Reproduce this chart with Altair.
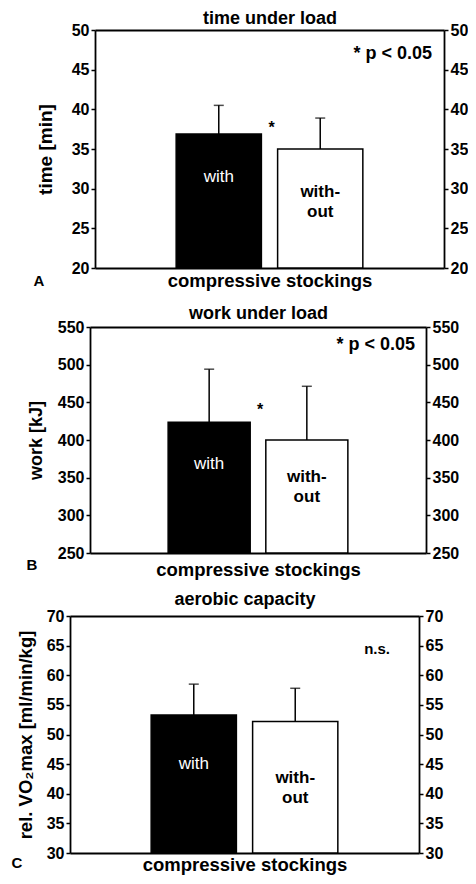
import altair as alt
import pandas as pd

FONT = "Liberation Sans"

# ---- data ----
conditions = ["with", "without"]
bar_labels = ["with", "with-\nout"]
panel_letters = ["A", "B", "C"]
panel_titles = ["time under load", "work under load", "aerobic capacity"]
y_titles = ["time [min]", "work [kJ]", "rel. VO\u2082max [ml/min/kg]"]
x_title = "compressive stockings"
y_domains = [[20, 50], [250, 550], [30, 70]]
y_ticks = [[20, 25, 30, 35, 40, 45, 50],
           [250, 300, 350, 400, 450, 500, 550],
           [30, 35, 40, 45, 50, 55, 60, 65, 70]]
time_mean = [36.9, 35.0]
time_sd_top = [40.5, 38.9]
work_mean = [423.5, 400.0]
work_sd_top = [494.0, 471.3]
vo2_mean = [53.3, 52.2]
vo2_sd_top = [58.5, 57.8]
sig_texts = ["* p < 0.05", "* p < 0.05", "n.s."]
sig_y = [47.0, 525.5, 64.5]
pair_star_y = [38.1, 445.5, None]

means = [time_mean, work_mean, vo2_mean]
tops = [time_sd_top, work_sd_top, vo2_sd_top]

# ---- layout (pixels inside the chart) ----
W, H = 460, 868
x_ranges = [[87, 436], [82, 418], [62, 411]]
y_ranges = [[260, 22], [545, 319], [845, 608]]   # [bottom, top]
top_title_pad = [3, 5, 8]
bottom_title_pad = [3, 7, 2]
y_title_pad = [16, 12, 11]
y_title_size = [19, 18, 18.5]
with_dy = [43, 42, 49]
without_dy = [43, 37, 57]
sig_x = [424, 407, 382]
sig_size = [18, 18, 15]
letter_pos = [(31, 273), (24, 557), (9, 855)]
PAD_IN, PAD_OUT = 0.16, 0.8


def panel(i):
    lo, hi = y_domains[i]
    x0, x1 = x_ranges[i]
    yb, yt = y_ranges[i]
    df = pd.DataFrame({"cond": conditions, "mean": means[i], "top": tops[i],
                       "label": bar_labels})
    xscale = alt.Scale(domain=conditions, range=[x0, x1],
                       paddingInner=PAD_IN, paddingOuter=PAD_OUT)
    yscale = alt.Scale(domain=[lo, hi], range=[yb, yt], nice=False, zero=False)

    x_plain = alt.X("cond:N", scale=xscale, axis=None)
    x_bottom = alt.X("cond:N", scale=xscale,
                     axis=alt.Axis(orient="bottom", labels=False, ticks=False,
                                   title=x_title, titleFontSize=18.5,
                                   titlePadding=bottom_title_pad[i],
                                   offset=yb - H))
    x_top = alt.X("cond:N", scale=xscale,
                  axis=alt.Axis(orient="top", labels=False, ticks=False,
                                title=panel_titles[i], titleFontSize=18,
                                titlePadding=top_title_pad[i], offset=-yt))
    base = alt.Chart(df)

    bars = base.mark_bar(stroke="black", strokeWidth=1.5).encode(
        x=x_bottom,
        y=alt.Y("mean:Q", scale=yscale,
                axis=alt.Axis(orient="left", values=y_ticks[i], title=y_titles[i],
                              titleFontSize=y_title_size[i],
                              titlePadding=y_title_pad[i], offset=-x0)),
        y2=alt.Y2Datum(lo),
        fill=alt.Fill("cond:N", scale=alt.Scale(domain=conditions,
                                                range=["black", "white"]),
                      legend=None),
    )
    err = base.mark_rule(color="black", strokeWidth=1.5).encode(
        x=x_top,
        y=alt.Y("top:Q", scale=yscale,
                axis=alt.Axis(orient="right", values=y_ticks[i], title=None,
                              offset=x1 - W)),
        y2="mean:Q",
    )
    cap = base.mark_tick(color="black", size=10, thickness=1.5).encode(
        x=x_plain, y=alt.Y("top:Q", scale=yscale, axis=None))

    lbl_with = base.transform_filter(alt.datum.cond == "with").mark_text(
        font=FONT, fontSize=17, color="white", baseline="middle",
        dy=with_dy[i]).encode(
        x=x_plain, y=alt.Y("mean:Q", scale=yscale, axis=None), text="label:N")
    lbl_without = base.transform_filter(alt.datum.cond == "without").mark_text(
        font=FONT, fontSize=17, fontWeight="bold", color="black",
        baseline="middle", lineBreak="\n", lineHeight=20,
        dy=without_dy[i]).encode(
        x=x_plain, y=alt.Y("mean:Q", scale=yscale, axis=None), text="label:N")

    sig = alt.Chart(pd.DataFrame({"t": [sig_texts[i]]})).mark_text(
        font=FONT, fontSize=sig_size[i], fontWeight="bold", color="black",
        align="right", baseline="middle").encode(
        x=alt.value(sig_x[i]),
        y=alt.YDatum(sig_y[i], scale=yscale, axis=None),
        text="t:N")

    letter = alt.Chart(pd.DataFrame({"l": [panel_letters[i]]})).mark_text(
        font=FONT, fontSize=15, fontWeight="bold", color="black",
        align="center", baseline="middle").encode(
        x=alt.value(letter_pos[i][0]), y=alt.value(letter_pos[i][1]),
        text="l:N")

    layers = [bars, err, cap, lbl_with, lbl_without, sig, letter]
    if pair_star_y[i] is not None:
        step = (x1 - x0) / (2 - PAD_IN + 2 * PAD_OUT)
        star = base.transform_filter(alt.datum.cond == "with").transform_calculate(
            s="'*'").mark_text(
            font=FONT, fontSize=16, fontWeight="bold", color="black",
            baseline="middle", dx=step / 2 + 2, dy=4).encode(
            x=x_plain,
            y=alt.YDatum(pair_star_y[i], scale=yscale, axis=None),
            text="s:N")
        layers.append(star)

    return alt.layer(*layers).resolve_axis(x="independent", y="independent")


chart = alt.layer(panel(0), panel(1), panel(2)).resolve_scale(
    x="independent", y="independent"
).properties(
    width=W, height=H, background="white",
    padding={"top": 0, "left": 0, "right": 0, "bottom": 0}
).configure_view(stroke="transparent").configure_axis(
    grid=False, domainColor="black", domainWidth=1.8, tickColor="black",
    tickWidth=1.5, tickSize=4, labelFont=FONT, labelFontSize=16,
    labelFontWeight="bold", labelColor="black", labelPadding=2,
    titleFont=FONT, titleFontWeight="bold", titleColor="black"
)

chart.save("out.html", embed_options={"renderer": "svg", "actions": False})
